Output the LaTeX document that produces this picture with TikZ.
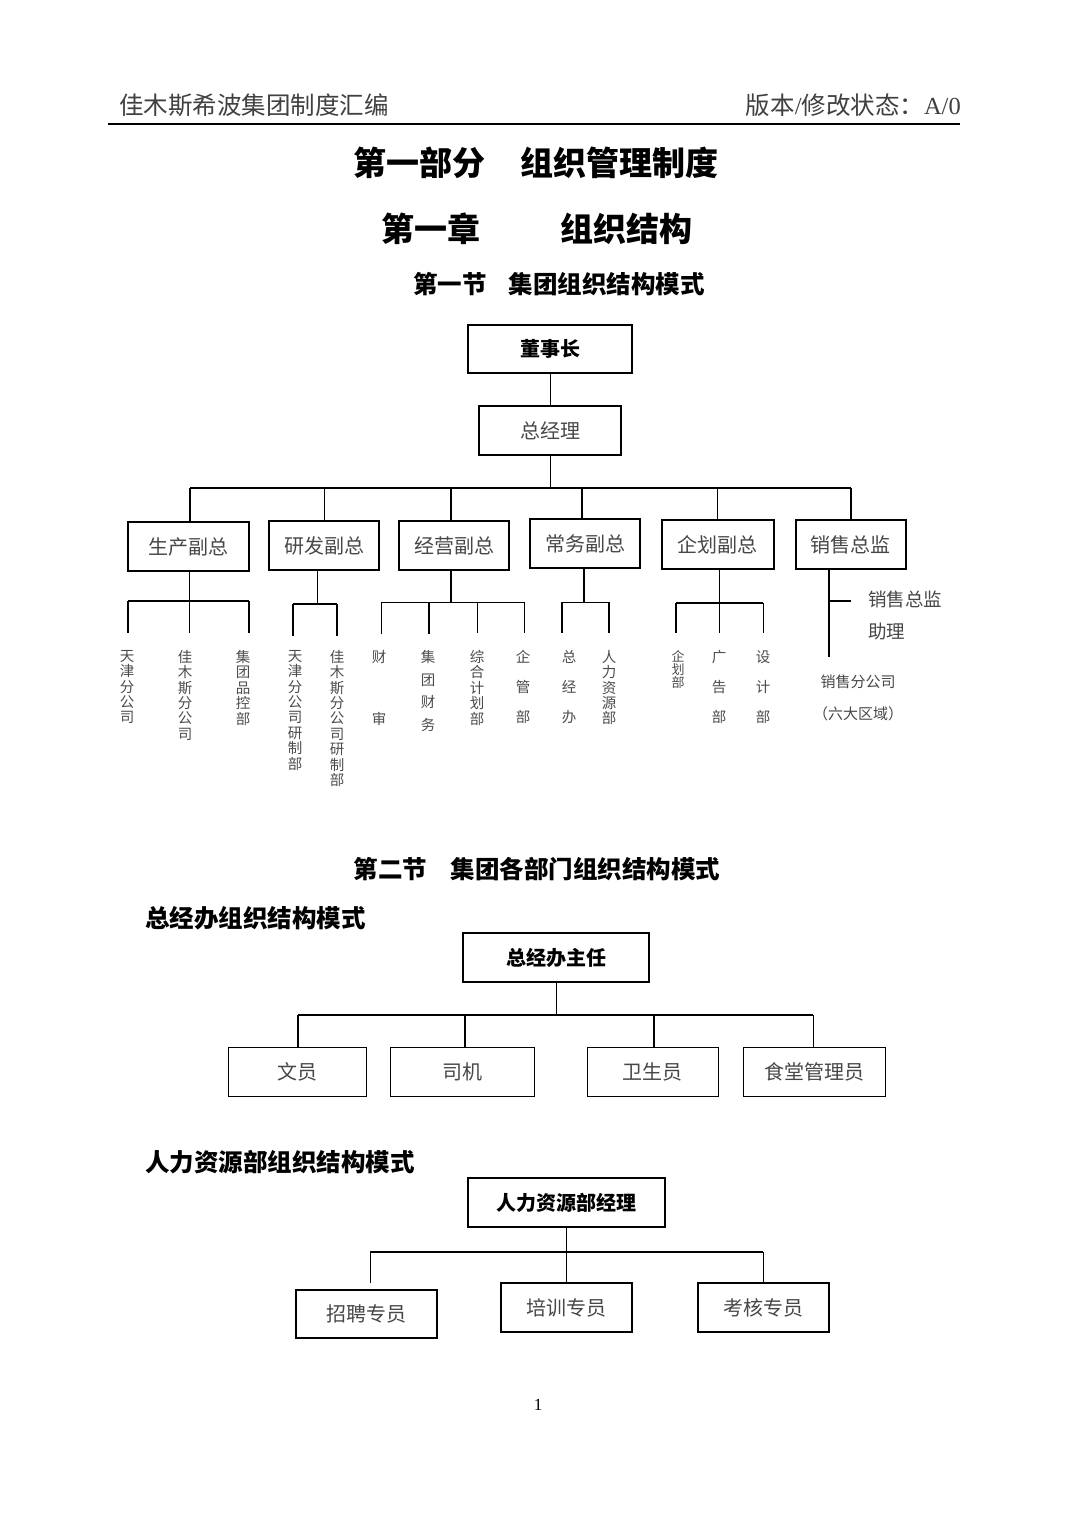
\documentclass[tikz,border=0pt]{standalone}
\usepackage{fontspec}
\setmainfont{Liberation Serif}
\newfontfamily\cjk{Noto Sans CJK SC}
\begin{document}
\begin{tikzpicture}[x=1pt,y=-1pt,
  box/.style={draw, line width=1pt, inner sep=0pt, font=\cjk\fontsize{20}{24}\selectfont, text=black!72},
  bbox/.style={box, font=\cjk\bfseries\fontsize{20}{24}\selectfont, text=black},
  vtxt/.style={align=center, anchor=north, inner sep=0pt, text=black!70, font=\cjk\fontsize{14.5}{15.4}\selectfont},
  vwide/.style={vtxt, font=\cjk\fontsize{14.5}{30}\selectfont},
  thin/.style={line width=1pt},
  thick2/.style={line width=2.2pt},
  heading/.style={font=\cjk\bfseries\fontsize{24.5}{28}\selectfont, inner sep=0pt},
  title/.style={font=\cjk\bfseries\fontsize{33}{38}\selectfont, inner sep=0pt}
]
\fill[white] (0,0) rectangle (1075,1518);
\useasboundingbox (0,0) rectangle (1075,1518);

% header
\node[anchor=west, inner sep=0pt, text=black!75, font=\cjk\fontsize{24.5}{28}\selectfont] (hl) at (119,105) {佳木斯希波集团制度汇编};
\node[anchor=east, inner sep=0pt, text=black!75, font=\fontsize{24.5}{28}\selectfont] (hr) at (961,105) {{\cjk 版本}/{\cjk 修改状态：}A/0};
\coordinate (rl) at (108,124);
\coordinate (rr) at (960,124);
\draw[line width=2pt] (rl) -- (rr);

% titles
\node[title] (t1) at (536,163) {第一部分\hspace{35pt}组织管理制度};
\node[title] (t2) at (537,229) {第一章\hspace{80pt}组织结构};
\node[heading] (t3) at (559,284) {第一节\hspace{22pt}集团组织结构模式};

% top of chart
\node[bbox, line width=1.5pt, minimum width=164, minimum height=48] (chair) at (550,349) {董事长};
\node[box, line width=1.5pt, minimum width=142, minimum height=49] (gm) at (550,430.5) {总经理};
\draw[thin] (chair) -- (gm);
\coordinate (bus) at (550,488);
\draw[thin] (gm.south) -- (bus);

% vice presidents
\node[box, line width=2pt, minimum width=121, minimum height=49] (vp1) at (188.5,546.5) {生产副总};
\node[box, line width=2pt, minimum width=110, minimum height=49] (vp2) at (324,545.5) {研发副总};
\node[box, line width=2pt, minimum width=110, minimum height=49] (vp3) at (454,545.5) {经营副总};
\node[box, line width=2pt, minimum width=110, minimum height=49] (vp4) at (585,543.5) {常务副总};
\node[box, line width=2pt, minimum width=112, minimum height=49] (vp5) at (717.5,544.5) {企划副总};
\node[box, line width=2pt, minimum width=110, minimum height=49] (vp6) at (850.5,544.5) {销售总监};

\coordinate (busL) at (190,488);
\coordinate (busR) at (851,488);
\draw[line width=1.3pt] (busL) -- (busR);
\draw[line width=2.5pt] (busL) -- (vp1.north -| busL);
\draw[thin] (vp2.north |- bus) -- (vp2.north);
\draw[thick2] (451,488) -- (vp3.north -| 451,0);
\draw[thick2] (582,488) -- (vp4.north -| 582,0);
\draw[thin] (vp5.north |- bus) -- (vp5.north);
\draw[thick2] (busR) -- (vp6.north -| busR);

% leaves under 生产副总
\node[vtxt] (a1) at (127,650) {天\\津\\分\\公\\司};
\node[vtxt] (a2) at (185,650) {佳\\木\\斯\\分\\公\\司};
\node[vtxt] (a3) at (243,650) {集\\团\\品\\控\\部};
\coordinate (ja) at (189,601);
\draw[thin] (vp1.south -| ja) -- (ja);
\draw[thick2] (128,601) -- (249,601);
\draw[thick2] (128,601) -- (128,633);
\draw[thin] (ja) -- (189,633);
\draw[thick2] (249,601) -- (249,633);

% leaves under 研发副总
\node[vtxt] (b1) at (295,650) {天\\津\\分\\公\\司\\研\\制\\部};
\node[vtxt] (b2) at (337,650) {佳\\木\\斯\\分\\公\\司\\研\\制\\部};
\coordinate (jb) at (317,604);
\draw[thin] (vp2.south -| jb) -- (jb);
\draw[thick2] (293,604) -- (337,604);
\draw[thick2] (293,604) -- (293,636);
\draw[thick2] (337,604) -- (337,636);

% leaves under 经营副总
\node[vtxt, font=\cjk\fontsize{14.5}{62}\selectfont] (c1) at (379,650) {财\\审};
\node[vtxt, font=\cjk\fontsize{14.5}{22.6}\selectfont] (c2) at (428,650) {集\\团\\财\\务};
\node[vtxt] (c3) at (477,650) {综\\合\\计\\划\\部};
\node[vwide] (c4) at (523,650) {企\\管\\部};
\coordinate (jc) at (451,602);
\draw[thick2] (vp3.south -| jc) -- (jc);
\draw[thin] (381,602) -- (524,602);
\draw[thin] (381,602) -- (381,634);
\draw[thick2] (429,602) -- (429,634);
\draw[thin] (477,602) -- (477,633);
\draw[thin] (524,602) -- (524,633);

% leaves under 常务副总
\node[vwide] (d1) at (569,650) {总\\经\\办};
\node[vtxt] (d2) at (609,650) {人\\力\\资\\源\\部};
\coordinate (jd) at (584,602);
\draw[thick2] (vp4.south -| jd) -- (jd);
\draw[thin] (562,602) -- (609,602);
\draw[thick2] (562,602) -- (562,633);
\draw[thick2] (609,602) -- (609,633);

% leaves under 企划副总
\node[vtxt, font=\cjk\fontsize{13}{13.2}\selectfont] (e1) at (678,650) {企\\划\\部};
\node[vwide] (e2) at (719,650) {广\\告\\部};
\node[vwide] (e3) at (763,650) {设\\计\\部};
\coordinate (je) at (719,603);
\draw[thin] (vp5.south -| je) -- (je);
\draw[line width=1.5pt] (676,603) -- (763,603);
\draw[thick2] (676,603) -- (676,633);
\draw[thin] (je) -- (719,633);
\draw[thin] (763,603) -- (763,633);

% under 销售总监
\node[align=left, anchor=north west, inner sep=0pt, text=black!72, font=\cjk\fontsize{18.5}{32}\selectfont] (sa) at (868,591) {销售总监\\助理};
\node[align=center, anchor=north, inner sep=0pt, text=black!72, font=\cjk\fontsize{15}{32}\selectfont] (sb) at (858,675) {销售分公司\\（六大区域）};
\coordinate (jf) at (829,601);
\coordinate (jfe) at (829,657);
\draw[thick2] (vp6.south -| jf) -- (jfe);
\draw[thick2] (jf) -- (851,601);

% section 2
\node[heading] (s2) at (537,869) {第二节\hspace{24pt}集团各部门组织结构模式};
\node[heading, anchor=west] (s2a) at (145,918) {总经办组织结构模式};

\node[bbox, line width=2pt, minimum width=186, minimum height=49] (zjb) at (556,957.5) {总经办主任};
\coordinate (bus2) at (556,1015);
\draw[thin] (zjb.south) -- (bus2);
\node[box, minimum width=138, minimum height=49] (w1) at (297,1071.5) {文员};
\node[box, minimum width=144, minimum height=49] (w2) at (462,1071.5) {司机};
\node[box, minimum width=131, minimum height=49] (w3) at (652.5,1071.5) {卫生员};
\node[box, minimum width=142, minimum height=49] (w4) at (814,1071.5) {食堂管理员};
\draw[line width=2pt] (298,1015) -- (813,1015);
\draw[thick2] (298,1015) -- (w1.north -| 298,0);
\draw[thick2] (465,1015) -- (w2.north -| 465,0);
\draw[thick2] (654,1015) -- (w3.north -| 654,0);
\draw[thin] (813,1015) -- (w4.north -| 813,0);

% HR
\node[heading, anchor=west] (s2b) at (145,1162) {人力资源部组织结构模式};
\node[bbox, line width=1.5pt, minimum width=197, minimum height=49] (hrm) at (566.5,1202.5) {人力资源部经理};
\coordinate (bus3) at (566,1252);
\draw[thin] (hrm.south -| bus3) -- (bus3);
\draw[line width=2pt] (370,1252) -- (763,1252);
\node[box, line width=2.5pt, minimum width=141, minimum height=48] (h1) at (366.5,1314) {招聘专员};
\node[box, line width=1.5pt, minimum width=131, minimum height=49] (h2) at (566.5,1307.5) {培训专员};
\node[box, line width=1.5pt, minimum width=131, minimum height=49] (h3) at (763.5,1307.5) {考核专员};
\coordinate (h1t) at (370,1283);
\draw[thin] (370,1252) -- (h1t);
\draw[thin] (bus3) -- (h2.north -| bus3);
\draw[thin] (763,1252) -- (h3.north -| 763,0);

% page number
\node[inner sep=0pt, font=\fontsize{17}{20}\selectfont] (pg) at (538,1405) {1};
\end{tikzpicture}
\end{document}
